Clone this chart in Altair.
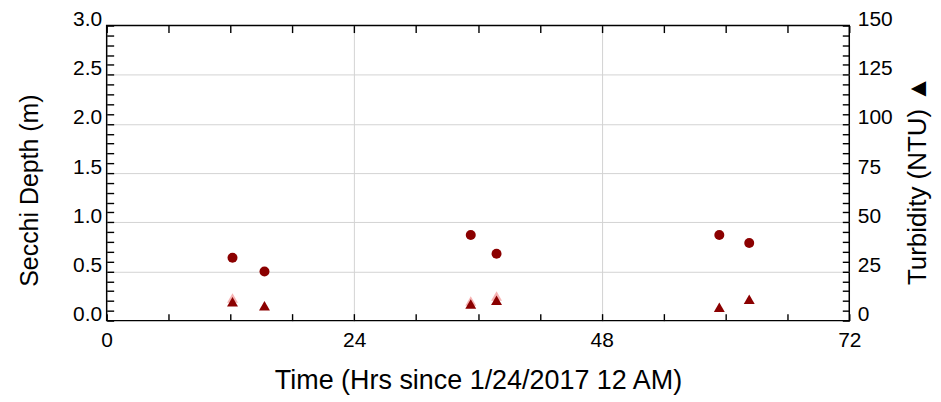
import altair as alt
import pandas as pd

# ---- data ----
sample_hours = [12.2, 15.3, 35.3, 37.8, 59.4, 62.3]
secchi_m = [0.64, 0.50, 0.87, 0.68, 0.87, 0.79]
turbidity_ntu = [9.6, 7.6, 8.4, 10.4, 6.8, 10.9]
replicate_hours = [12.2, 35.3, 37.8]
replicate_ntu = [11.5, 10.0, 12.5]

x_tick_values = list(range(0, 73, 6))
secchi_tick_values = [round(i * 0.1, 1) for i in range(31)]
turb_tick_values = list(range(0, 151, 5))

FONT = "Liberation Sans"
DARK = "#8b0000"
TICK = 7

secchi_df = pd.DataFrame({"hours": sample_hours, "secchi": secchi_m})
turb_df = pd.DataFrame({
    "hours": replicate_hours + sample_hours,
    "turbidity": replicate_ntu + turbidity_ntu,
    "series": ["replicate"] * len(replicate_hours) + ["mean"] * len(sample_hours),
})

xscale = alt.Scale(domain=[0, 72], nice=False, zero=False)

common_axis = dict(
    tickSize=TICK, offset=-TICK, domain=False, tickColor="black", tickWidth=1.4,
    labelFont=FONT, labelFontSize=21, labelColor="black", labelOverlap=False,
    titleFont=FONT, titleFontSize=27, titleFontWeight="normal", titleColor="black",
)

circles = alt.Chart(secchi_df).mark_point(
    filled=True, shape="circle", size=100, color=DARK, opacity=1
).encode(
    x=alt.X("hours:Q", scale=xscale, axis=alt.Axis(
        orient="bottom", values=x_tick_values,
        labelExpr="datum.value % 24 == 0 ? datum.label : ''",
        labelFlush=False, labelPadding=9,
        grid=True, gridColor="#d3d3d3", gridWidth=1,
        gridOpacity={"condition": {"test": "datum.value % 24 == 0 && datum.value > 0 && datum.value < 72", "value": 1}, "value": 0},
        title="Time (Hrs since 1/24/2017 12 AM)", titlePadding=17,
        **common_axis)),
    y=alt.Y("secchi:Q", scale=alt.Scale(domain=[0, 3], nice=False, zero=True), axis=alt.Axis(
        orient="left", values=secchi_tick_values,
        labelExpr="round(datum.value * 10) % 5 == 0 ? format(datum.value, '.1f') : ''",
        labelBaseline="alphabetic", labelPadding=5,
        grid=True, gridColor="#d3d3d3", gridWidth=1,
        gridOpacity={"condition": {"test": "round(datum.value * 10) % 5 == 0 && datum.value > 0 && datum.value < 3", "value": 1}, "value": 0},
        title="Secchi Depth (m)",
        **{**common_axis, "titleFontSize": 25},
        titleX=-84, titleY=165, titleBaseline="middle", titleAlign="center", titleAngle=270)),
)

triangles = alt.Chart(turb_df).mark_point(
    filled=True, shape="triangle-up", size=120
).encode(
    x=alt.X("hours:Q", scale=xscale, axis=alt.Axis(
        orient="top", values=x_tick_values, labels=False, grid=False, title=None,
        **common_axis)),
    y=alt.Y("turbidity:Q", scale=alt.Scale(domain=[0, 150], nice=False, zero=True), axis=alt.Axis(
        orient="right", values=turb_tick_values,
        labelExpr="datum.value % 25 == 0 ? datum.label : ''",
        labelBaseline="alphabetic", labelPadding=8, grid=False,
        title="Turbidity (NTU) \u25b2", titleAngle=270,
        titleX=75, titleY=155, titleBaseline="middle", titleAlign="center",
        **{**common_axis, "titleFontSize": 26})),
    color=alt.Color("series:N", scale=alt.Scale(domain=["replicate", "mean"], range=["#f08080", DARK]), legend=None),
    opacity=alt.Opacity("series:N", scale=alt.Scale(domain=["replicate", "mean"], range=[0.6, 1.0]), legend=None),
    order=alt.Order("series:N", sort="descending"),
)

chart = alt.layer(circles, triangles).resolve_scale(
    y="independent"
).resolve_axis(
    x="independent", y="independent"
).properties(
    width=745, height=296,
    padding={"left": 99, "top": 17, "right": 84, "bottom": 80},
    autosize="none",
    background="white",
).configure_view(
    stroke="black", strokeWidth=1.5
)

chart.save("out.html", embed_options={"renderer": "svg", "actions": False})
